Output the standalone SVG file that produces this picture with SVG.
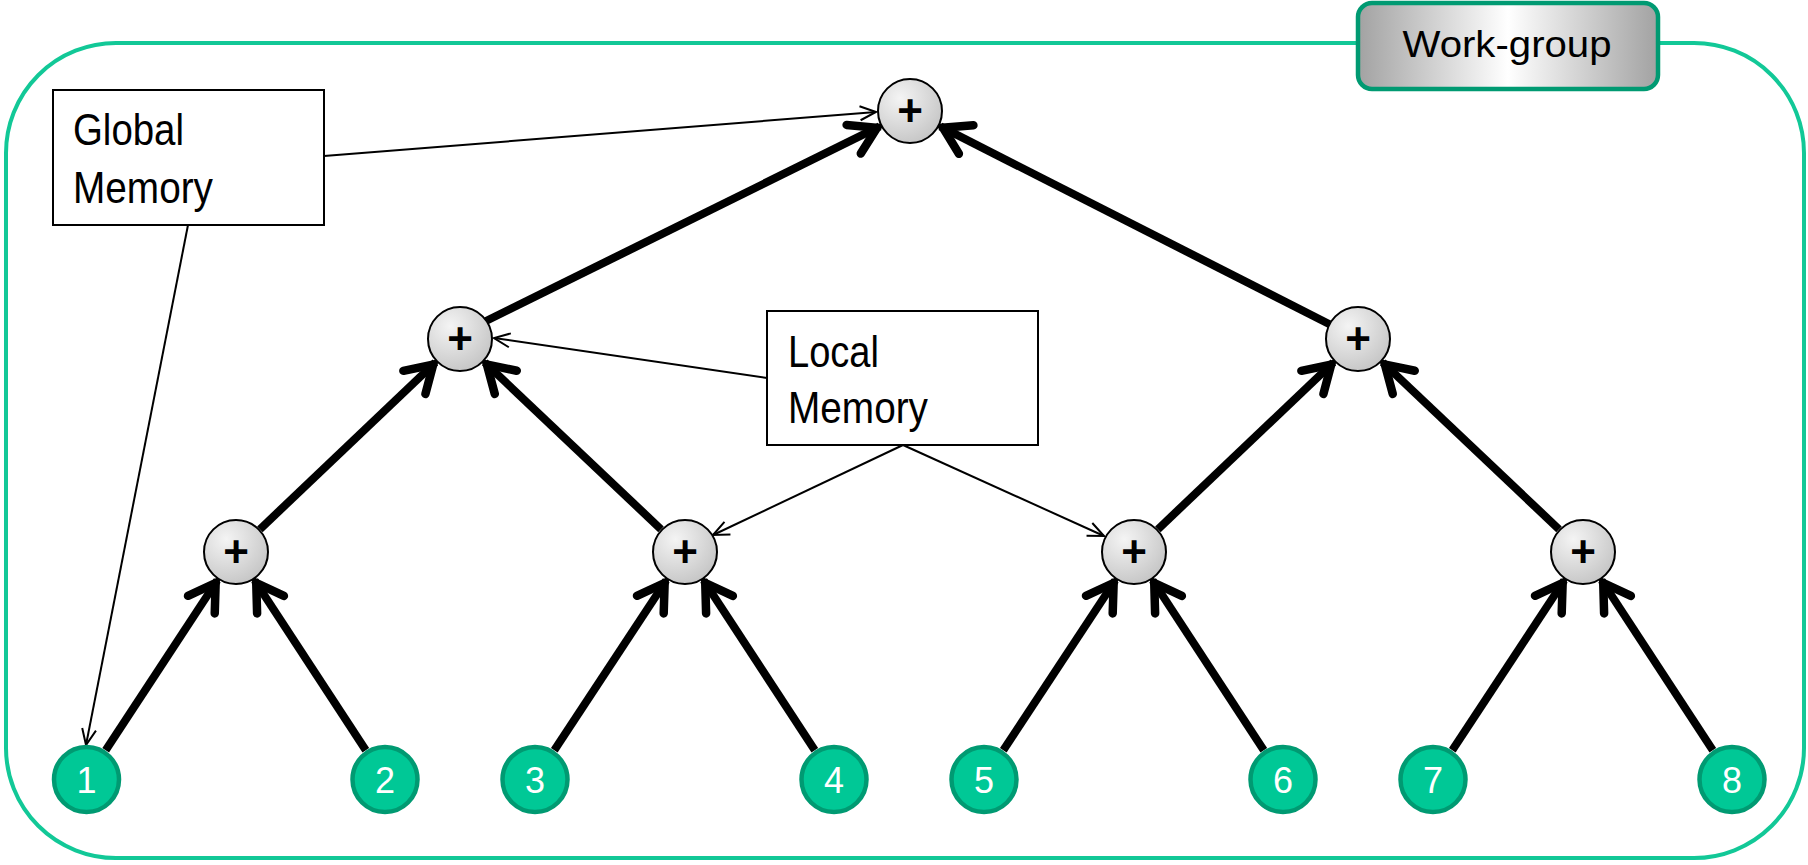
<svg xmlns="http://www.w3.org/2000/svg" width="1808" height="865" viewBox="0 0 1808 865">
<style>
.frame{fill:none;stroke:#12c897;stroke-width:4}
.box{fill:#fff;stroke:#000;stroke-width:2}
.lbl{font-family:"Liberation Sans",Arial,sans-serif;font-size:44px;fill:#000}
.plus{fill:url(#pg);stroke:#000;stroke-width:2}
.ptxt{font-family:"Liberation Sans",Arial,sans-serif;font-size:44px;font-weight:bold;fill:#000;text-anchor:middle}
.leaf{fill:#00c896;stroke:#009a72;stroke-width:4.5}
.ltxt{font-family:"Liberation Sans",Arial,sans-serif;font-size:36px;fill:#fff;text-anchor:middle}
.thick{stroke:#000;stroke-width:8;fill:none;marker-end:url(#ah)}
.thin{stroke:#000;stroke-width:2;fill:none;marker-end:url(#at)}
</style>
<defs>
<radialGradient id="pg" cx="0.35" cy="0.3" r="0.8">
<stop offset="0" stop-color="#f4f4f4"/>
<stop offset="1" stop-color="#c2c2c2"/>
</radialGradient>
<linearGradient id="wg" x1="0" y1="0" x2="1" y2="0">
<stop offset="0" stop-color="#a2a2a2"/>
<stop offset="0.5" stop-color="#ffffff"/>
<stop offset="1" stop-color="#a2a2a2"/>
</linearGradient>
<marker id="ah" markerUnits="userSpaceOnUse" markerWidth="50" markerHeight="50" viewBox="-40 -25 50 50" refX="0" refY="0" orient="auto">
<path d="M-29,-16 L-3,0 L-29,16" fill="none" stroke="#000" stroke-width="8.5" stroke-linecap="round" stroke-linejoin="miter"/>
</marker>
<marker id="at" markerUnits="userSpaceOnUse" markerWidth="30" markerHeight="30" viewBox="-20 -15 30 30" refX="0" refY="0" orient="auto">
<path d="M-16,-7 L0,0 L-16,7" fill="none" stroke="#000" stroke-width="2"/>
</marker>
</defs>
<rect class="frame" x="6" y="43" width="1798" height="815" rx="110" ry="110"/>
<g id="workgroup">
<rect x="1358" y="3" width="300" height="86" rx="14" ry="14" fill="url(#wg)" stroke="#009a72" stroke-width="4.5"/>
<text x="1507" y="57" font-family="'Liberation Sans',Arial,sans-serif" font-size="37" text-anchor="middle" textLength="209" lengthAdjust="spacingAndGlyphs">Work-group</text>
</g>
<g id="connectors">
<line class="thick" x1="105.7" y1="750.2" x2="217.3" y2="580.4"/>
<line class="thick" x1="365.8" y1="750.2" x2="254.6" y2="580.4"/>
<line class="thick" x1="554.3" y1="750.3" x2="666.3" y2="580.4"/>
<line class="thick" x1="814.8" y1="750.2" x2="703.6" y2="580.4"/>
<line class="thick" x1="1003.3" y1="750.3" x2="1115.3" y2="580.4"/>
<line class="thick" x1="1263.8" y1="750.2" x2="1152.6" y2="580.4"/>
<line class="thick" x1="1452.3" y1="750.3" x2="1564.3" y2="580.4"/>
<line class="thick" x1="1712.8" y1="750.2" x2="1601.6" y2="580.4"/>
<line class="thick" x1="259.9" y1="529.3" x2="435.4" y2="362.4"/>
<line class="thick" x1="661.0" y1="529.3" x2="484.7" y2="362.4"/>
<line class="thick" x1="1157.9" y1="529.3" x2="1333.4" y2="362.4"/>
<line class="thick" x1="1559.0" y1="529.3" x2="1382.7" y2="362.4"/>
<line class="thick" x1="486" y1="321" x2="879.7" y2="126.4"/>
<line class="thick" x1="1331" y1="325" x2="940.3" y2="126.4"/>
<line class="thin" x1="324" y1="156" x2="876" y2="112"/>
<line class="thin" x1="188" y1="225" x2="86" y2="745"/>
<line class="thin" x1="767" y1="378" x2="494" y2="338"/>
<line class="thin" x1="903" y1="445" x2="713" y2="535"/>
<line class="thin" x1="903" y1="445" x2="1104" y2="536"/>
</g>
<g id="global-memory">
<rect class="box" x="53" y="90" width="271" height="135"/>
<text class="lbl" x="73" y="145" textLength="111" lengthAdjust="spacingAndGlyphs">Global</text>
<text class="lbl" x="73" y="203" textLength="140" lengthAdjust="spacingAndGlyphs">Memory</text>
</g>
<g id="local-memory">
<rect class="box" x="767" y="311" width="271" height="134"/>
<text class="lbl" x="788" y="367" textLength="91" lengthAdjust="spacingAndGlyphs">Local</text>
<text class="lbl" x="788" y="423" textLength="140" lengthAdjust="spacingAndGlyphs">Memory</text>
</g>
<g id="sum-top"><circle class="plus" cx="910" cy="111" r="32"/><text class="ptxt" x="910" y="126">+</text></g>
<g id="sum-l2-1"><circle class="plus" cx="460" cy="339" r="32"/><text class="ptxt" x="460" y="354">+</text></g>
<g id="sum-l2-2"><circle class="plus" cx="1358" cy="339" r="32"/><text class="ptxt" x="1358" y="354">+</text></g>
<g id="sum-l3-1"><circle class="plus" cx="236" cy="552" r="32"/><text class="ptxt" x="236" y="567">+</text></g>
<g id="sum-l3-2"><circle class="plus" cx="685" cy="552" r="32"/><text class="ptxt" x="685" y="567">+</text></g>
<g id="sum-l3-3"><circle class="plus" cx="1134" cy="552" r="32"/><text class="ptxt" x="1134" y="567">+</text></g>
<g id="sum-l3-4"><circle class="plus" cx="1583" cy="552" r="32"/><text class="ptxt" x="1583" y="567">+</text></g>
<g id="leaf-1"><circle class="leaf" cx="86.5" cy="779.5" r="32.5"/><text class="ltxt" x="86.5" y="793">1</text></g>
<g id="leaf-2"><circle class="leaf" cx="385" cy="779.5" r="32.5"/><text class="ltxt" x="385" y="793">2</text></g>
<g id="leaf-3"><circle class="leaf" cx="535" cy="779.5" r="32.5"/><text class="ltxt" x="535" y="793">3</text></g>
<g id="leaf-4"><circle class="leaf" cx="834" cy="779.5" r="32.5"/><text class="ltxt" x="834" y="793">4</text></g>
<g id="leaf-5"><circle class="leaf" cx="984" cy="779.5" r="32.5"/><text class="ltxt" x="984" y="793">5</text></g>
<g id="leaf-6"><circle class="leaf" cx="1283" cy="779.5" r="32.5"/><text class="ltxt" x="1283" y="793">6</text></g>
<g id="leaf-7"><circle class="leaf" cx="1433" cy="779.5" r="32.5"/><text class="ltxt" x="1433" y="793">7</text></g>
<g id="leaf-8"><circle class="leaf" cx="1732" cy="779.5" r="32.5"/><text class="ltxt" x="1732" y="793">8</text></g>
</svg>
